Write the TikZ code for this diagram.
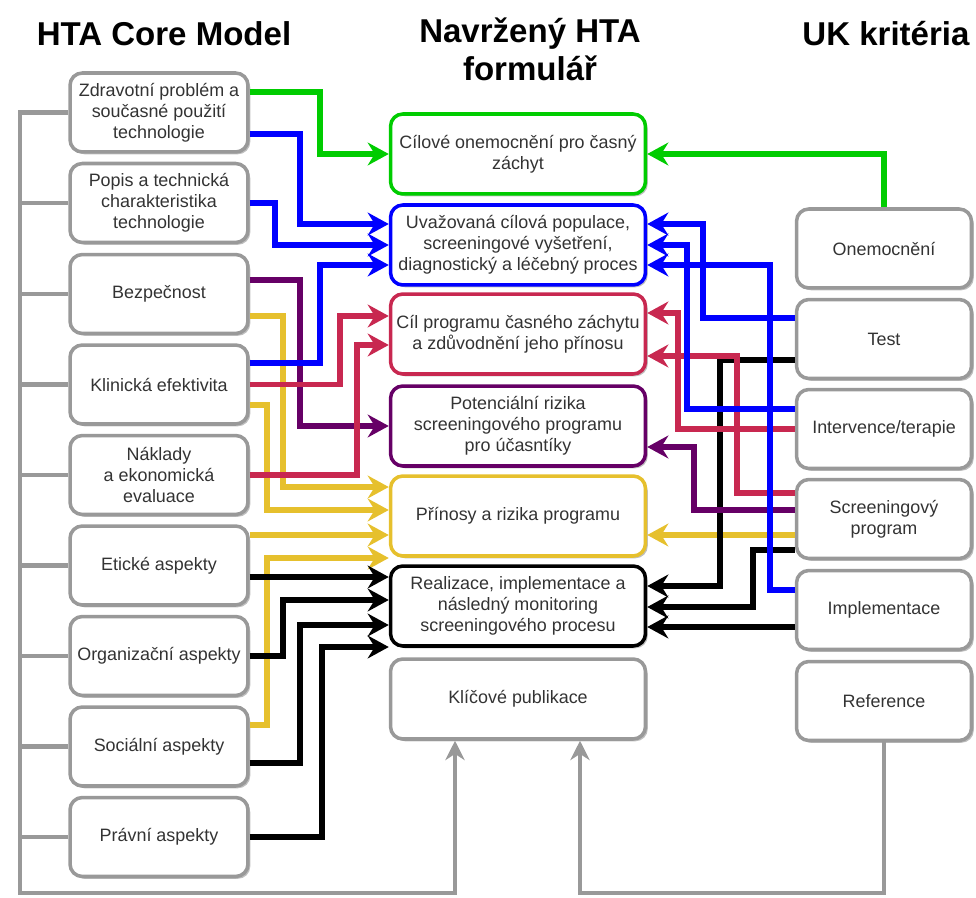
\documentclass[tikz,border=0pt]{standalone}
\usepackage{fontspec}
\setmainfont{Liberation Sans}
\usetikzlibrary{arrows.meta,shadows}
\definecolor{lineGreen}{RGB}{0,204,0}
\definecolor{lineBlue}{RGB}{0,0,255}
\definecolor{lineRed}{RGB}{200,40,80}
\definecolor{linePurple}{RGB}{102,0,102}
\definecolor{lineYellow}{RGB}{230,192,45}
\definecolor{boxGray}{RGB}{153,153,153}
\definecolor{textGray}{RGB}{51,51,51}

\begin{document}
\begin{tikzpicture}[x=0.02cm, y=-0.02cm,
    box/.style={draw=boxGray, line width=2pt, rounded corners=7pt, fill=white, align=center,
        text=textGray, font=\fontsize{10.2}{11.9}\selectfont,
        drop shadow={shadow xshift=1.3pt, shadow yshift=-1.3pt, fill=black, opacity=0.25}},
    sidebox/.style={box, minimum width=3.56cm, minimum height=1.58cm},
    midbox/.style={box, minimum width=5.1cm, minimum height=1.6cm},
    title/.style={font=\fontsize{18.8}{21.5}\selectfont\bfseries, align=center},
    link/.style={line width=3.1pt, -{Stealth[length=12pt, width=13pt, inset=4pt]}},
    bus/.style={draw=boxGray, line width=2.4pt},
    busarrow/.style={bus, -{Stealth[length=11pt, width=11pt, inset=3.5pt]}}
]
    \useasboundingbox (0,0) rectangle (976,898);

    % Titles
    \node[title] (hdrL) at (164,34) {HTA Core Model};
    \node[title] (hdrM) at (530,49) {Navržený HTA\\formulář};
    \node[title] (hdrR) at (886,34) {UK kritéria};

    % HTA Core Model (left column)
    \node[sidebox] (zdrav) at (159,112.5) {Zdravotní problém a\\současné použití\\technologie};
    \node[sidebox] (popis) at (159,203) {Popis a technická\\charakteristika\\technologie};
    \node[sidebox] (bezp) at (159,294) {Bezpečnost};
    \node[sidebox] (klin) at (159,384.5) {Klinická efektivita};
    \node[sidebox] (naklad) at (159,475) {Náklady\\a ekonomická\\evaluace};
    \node[sidebox] (etik) at (159,565.5) {Etické aspekty};
    \node[sidebox] (organ) at (159,656) {Organizační aspekty};
    \node[sidebox] (social) at (159,746.5) {Sociální aspekty};
    \node[sidebox] (pravni) at (159,837) {Právní aspekty};

    % Navrzeny formular (middle column)
    \node[midbox, draw=lineGreen] (cilove) at (518,154) {Cílové onemocnění pro časný\\záchyt};
    \node[midbox, draw=lineBlue] (populace) at (518,245) {Uvažovaná cílová populace,\\screeningové vyšetření,\\diagnostický a léčebný proces};
    \node[midbox, draw=lineRed] (cilprog) at (518,334) {Cíl programu časného záchytu\\a zdůvodnění jeho přínosu};
    \node[midbox, draw=linePurple] (rizika) at (518,426) {Potenciální rizika\\screeningového programu\\pro účasntíky};
    \node[midbox, draw=lineYellow] (prinosy) at (518,516) {Přínosy a rizika programu};
    \node[midbox, draw=black] (realiz) at (518,606) {Realizace, implementace a\\následný monitoring\\screeningového procesu};
    \node[midbox] (publik) at (518,699) {Klíčové publikace};

    % UK kriteria (right column)
    \node[sidebox, minimum width=3.5cm] (onem) at (884,248.5) {Onemocnění};
    \node[sidebox, minimum width=3.5cm] (test) at (884,339) {Test};
    \node[sidebox, minimum width=3.5cm] (interv) at (884,429) {Intervence/terapie};
    \node[sidebox, minimum width=3.5cm] (screen) at (884,519) {Screeningový\\program};
    \node[sidebox, minimum width=3.5cm] (implem) at (884,610) {Implementace};
    \node[sidebox, minimum width=3.5cm] (refer) at (884,701) {Reference};

    % gray bus to the key publications
    \draw[bus] (popis.west) -- (popis.west -| 20,0);
    \draw[bus] (bezp.west) -- (bezp.west -| 20,0);
    \draw[bus] (klin.west) -- (klin.west -| 20,0);
    \draw[bus] (naklad.west) -- (naklad.west -| 20,0);
    \draw[bus] (etik.west) -- (etik.west -| 20,0);
    \draw[bus] (organ.west) -- (organ.west -| 20,0);
    \draw[bus] (social.west) -- (social.west -| 20,0);
    \draw[bus] (pravni.west) -- (pravni.west -| 20,0);
    \draw[busarrow] (zdrav.west) -| (20,893) -| (publik.south -| 455,0);
    \draw[busarrow] (refer.south) |- (580,893) -- (publik.south -| 580,0);

    % yellow
    \draw[link, lineYellow] (bezp.east |- 0,316) -| (283,487) -- (prinosy.west |- 0,487);
    \draw[link, lineYellow] (klin.east |- 0,405) -| (267,510) -- (prinosy.west |- 0,510);
    \draw[link, lineYellow] (etik.east |- 0,535) -- (prinosy.west |- 0,535);
    \draw[link, lineYellow] (social.east |- 0,725) -| (267,558) -- (prinosy.west |- 0,558);
    \draw[link, lineYellow] (screen.west |- 0,535) -- (prinosy.east |- 0,535);

    % black
    \draw[link, black] (etik.east |- 0,577) -- (realiz.west |- 0,577);
    \draw[link, black] (organ.east) -| (283,600) -- (realiz.west |- 0,600);
    \draw[link, black] (social.east |- 0,763) -| (300,625) -- (realiz.west |- 0,625);
    \draw[link, black] (pravni.east) -| (322,647) -- (realiz.west |- 0,647);
    \draw[link, black] (test.west |- 0,360) -| (720,586) -- (realiz.east |- 0,586);
    \draw[link, black] (screen.west |- 0,550) -| (753,607) -- (realiz.east |- 0,607);
    \draw[link, black] (implem.west |- 0,627) -- (realiz.east |- 0,627);

    % purple
    \draw[link, linePurple] (bezp.east |- 0,280) -| (300,426) -- (rizika.west);
    \draw[link, linePurple] (screen.west |- 0,510) -| (694,447) -- (rizika.east |- 0,447);

    % red
    \draw[link, lineRed] (klin.east) -| (340,316) -- (cilprog.west |- 0,316);
    \draw[link, lineRed] (naklad.east) -| (357,345) -- (cilprog.west |- 0,345);
    \draw[link, lineRed] (interv.west) -| (678,313) -- (cilprog.east |- 0,313);
    \draw[link, lineRed] (screen.west |- 0,493) -| (737,356) -- (cilprog.east |- 0,356);

    % blue
    \draw[link, lineBlue] (zdrav.east |- 0,134) -| (300,224) -- (populace.west |- 0,224);
    \draw[link, lineBlue] (popis.east) -| (275,245) -- (populace.west);
    \draw[link, lineBlue] (klin.east |- 0,363) -| (320,265) -- (populace.west |- 0,265);
    \draw[link, lineBlue] (test.west |- 0,318) -| (703,224) -- (populace.east |- 0,224);
    \draw[link, lineBlue] (interv.west |- 0,409) -| (687,245) -- (populace.east);
    \draw[link, lineBlue] (implem.west |- 0,590) -| (770,265) -- (populace.east |- 0,265);

    % green
    \draw[link, lineGreen] (zdrav.east |- 0,92) -| (320,154) -- (cilove.west);
    \draw[link, lineGreen] (onem.north) |- (cilove.east);
\end{tikzpicture}
\end{document}
